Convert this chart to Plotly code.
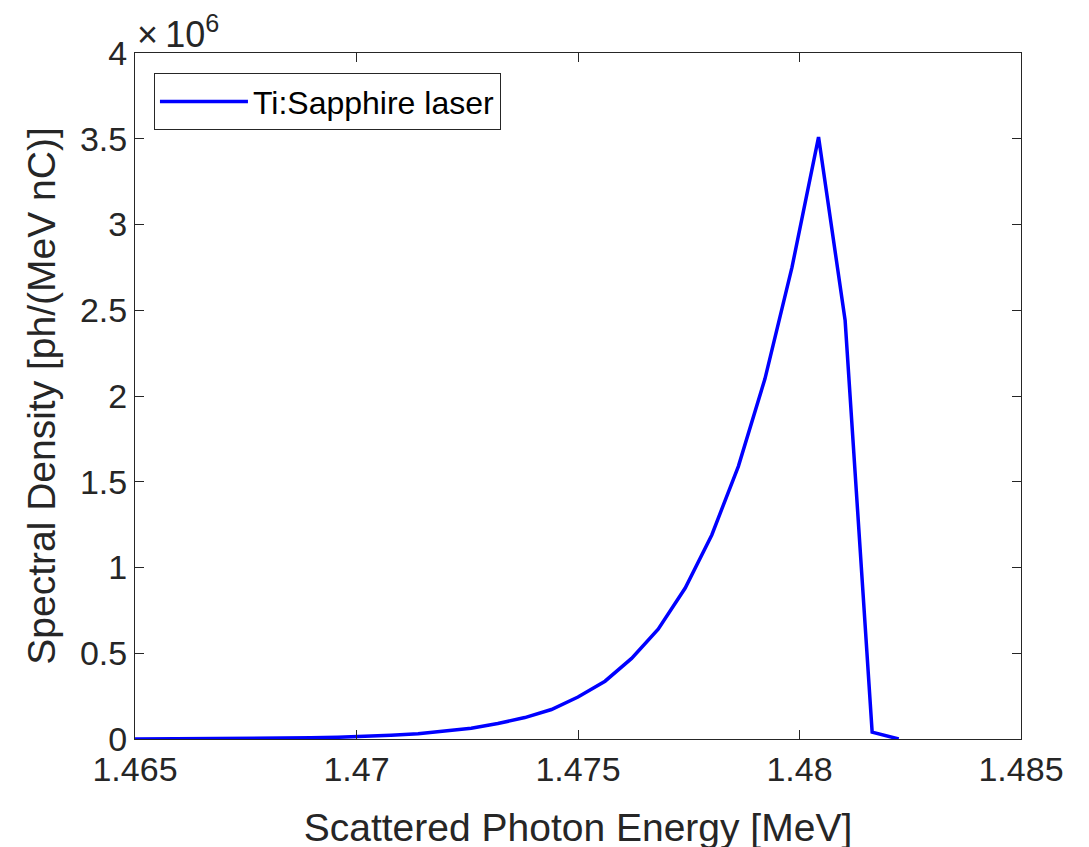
import plotly.graph_objects as go

# Data
energy_mev = [1.46475, 1.46536, 1.46596, 1.46656, 1.46716, 1.46777, 1.46837, 1.46897,
              1.46958, 1.47018, 1.47078, 1.47139, 1.47199, 1.47259, 1.47319, 1.47380,
              1.47440, 1.47500, 1.47561, 1.47621, 1.47681, 1.47742, 1.47802, 1.47862,
              1.47922, 1.47983, 1.48043, 1.48103, 1.48164, 1.48224]
density = [0.0003e6, 0.0005e6, 0.0008e6, 0.0013e6, 0.002e6, 0.003e6, 0.0045e6, 0.007e6,
           0.010e6, 0.015e6, 0.022e6, 0.031e6, 0.045e6, 0.063e6, 0.090e6, 0.125e6,
           0.172e6, 0.245e6, 0.337e6, 0.47e6, 0.64e6, 0.88e6, 1.19e6, 1.59e6,
           2.10e6, 2.75e6, 3.51e6, 2.44e6, 0.04e6, 0.0]

series_name = "Ti:Sapphire laser"
x_tickvals = [1.465, 1.47, 1.475, 1.48, 1.485]
x_ticktext = ["1.465", "1.47", "1.475", "1.48", "1.485"]
y_tickvals = [0, 0.5e6, 1e6, 1.5e6, 2e6, 2.5e6, 3e6, 3.5e6, 4e6]
y_ticktext = ["0", "0.5", "1", "1.5", "2", "2.5", "3", "3.5", "4"]

FONT = "Liberation Sans, Arial, Helvetica, sans-serif"
AX = "#262626"

fig = go.Figure()
fig.add_trace(go.Scatter(
    x=energy_mev, y=density, mode="lines", name=series_name,
    line=dict(color="#0000FF", width=3.5),
))

axis_common = dict(
    showline=True, linecolor=AX, linewidth=1, mirror="allticks",
    ticks="inside", ticklen=9, tickwidth=1, tickcolor=AX,
    showgrid=False, zeroline=False, automargin=False,
    tickfont=dict(family=FONT, size=34, color=AX),
)

# the page body adds an 8px offset, compensated in the margins
fig.update_layout(
    width=1089, height=847,
    margin=dict(l=127, r=76, t=45, b=116),
    paper_bgcolor="white", plot_bgcolor="white",
    font=dict(family=FONT, color=AX),
    xaxis=dict(range=[1.465, 1.485], tickvals=x_tickvals, ticktext=x_ticktext,
               title=dict(text="Scattered Photon Energy [MeV]",
                          font=dict(family=FONT, size=39, color=AX), standoff=26),
               **axis_common),
    yaxis=dict(range=[0, 4e6], tickvals=y_tickvals, ticktext=y_ticktext,
               title=dict(text="Spectral Density [ph/(MeV nC)]",
                          font=dict(family=FONT, size=39, color=AX), standoff=12),
               **axis_common),
    legend=dict(x=0.0214, y=0.9704, xanchor="left", yanchor="top",
                bgcolor="white", bordercolor=AX, borderwidth=1,
                font=dict(family=FONT, size=32, color="#000000"),
                itemwidth=88),
    showlegend=True,
)

fig.add_annotation(
    xref="paper", yref="paper", x=0.0, y=1.0, xanchor="left", yanchor="bottom",
    text="×\u200910<sup>6</sup>", showarrow=False,
    font=dict(family=FONT, size=36, color=AX), xshift=0, yshift=-4,
)

fig.write_html("out.html")
